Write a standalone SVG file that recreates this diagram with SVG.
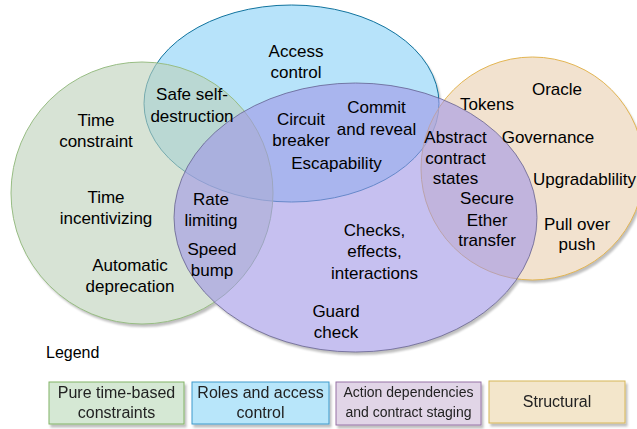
<svg xmlns="http://www.w3.org/2000/svg" width="637" height="429" viewBox="0 0 637 429">
<style>
text{font-family:"Liberation Sans",Arial,Helvetica,sans-serif;fill:#000;text-anchor:middle}
.lab{font-size:17px}
.leg{font-size:16px;fill:#222}
.leg14{font-size:14px;fill:#222}
.set{fill-opacity:0.6;stroke-width:1}
</style>
<defs>
<filter id="blur" x="-10%" y="-10%" width="120%" height="120%"><feGaussianBlur stdDeviation="1.2"/></filter>
<filter id="shadow" x="-10%" y="-20%" width="125%" height="150%"><feDropShadow dx="2" dy="3" stdDeviation="1" flood-color="#000" flood-opacity="0.25"/></filter>
<mask id="outside" maskUnits="userSpaceOnUse" x="0" y="0" width="637" height="429">
<rect x="0" y="0" width="637" height="429" fill="#fff"/>
<ellipse cx="291.5" cy="103.5" rx="147.5" ry="98.5" fill="#000"/>
<circle cx="142" cy="193" r="131" fill="#000"/>
<circle cx="532.5" cy="168.5" r="111.5" fill="#000"/>
<ellipse cx="355.5" cy="217.5" rx="181.5" ry="134.5" fill="#000"/>
</mask>
</defs>
<rect width="637" height="429" fill="#fff"/>
<g id="shadows" mask="url(#outside)" fill="#000" opacity="0.25" filter="url(#blur)">
<ellipse cx="293.5" cy="106.5" rx="147.5" ry="98.5"/>
<circle cx="144" cy="196" r="131"/>
<circle cx="534.5" cy="171.5" r="111.5"/>
<ellipse cx="357.5" cy="220.5" rx="181.5" ry="134.5"/>
</g>
<g id="roles-access-control">
<ellipse class="set" cx="291.5" cy="103.5" rx="147.5" ry="98.5" fill="#87d0f7" stroke="#10739e"/>
</g>
<g id="time-based-constraints">
<circle class="set" cx="142" cy="193" r="131" fill="#bcd0b9" stroke="#98bd84"/>
</g>
<g id="structural">
<circle class="set" cx="532.5" cy="168.5" r="111.5" fill="#e9cfaf" stroke="#e3b552"/>
</g>
<g id="action-dependencies">
<ellipse class="set" cx="355.5" cy="217.5" rx="181.5" ry="134.5" fill="#a096e6" stroke="#5d5a8a" stroke-opacity="0.75"/>
</g>
<g id="labels" class="lab">
<text class="lab" x="296" y="57">Access</text>
<text class="lab" x="296" y="78">control</text>
<text class="lab" x="192" y="100">Safe self-</text>
<text class="lab" x="192" y="122">destruction</text>
<text class="lab" x="96" y="126">Time</text>
<text class="lab" x="96" y="147">constraint</text>
<text class="lab" x="106" y="203">Time</text>
<text class="lab" x="106" y="224">incentivizing</text>
<text class="lab" x="130" y="271">Automatic</text>
<text class="lab" x="130" y="292">deprecation</text>
<text class="lab" x="211" y="205">Rate</text>
<text class="lab" x="211" y="226">limiting</text>
<text class="lab" x="212" y="255">Speed</text>
<text class="lab" x="212" y="276">bump</text>
<text class="lab" x="301" y="125">Circuit</text>
<text class="lab" x="301" y="146">breaker</text>
<text class="lab" x="336.5" y="169">Escapability</text>
<text class="lab" x="376.5" y="113">Commit</text>
<text class="lab" x="376.5" y="135">and reveal</text>
<text class="lab" x="487" y="110">Tokens</text>
<text class="lab" x="557" y="95">Oracle</text>
<text class="lab" x="455.5" y="143">Abstract</text>
<text class="lab" x="455.5" y="164">contract</text>
<text class="lab" x="455.5" y="184">states</text>
<text class="lab" x="548" y="143">Governance</text>
<text class="lab" x="584.5" y="185">Upgradablility</text>
<text class="lab" x="487" y="204">Secure</text>
<text class="lab" x="487" y="226">Ether</text>
<text class="lab" x="487" y="246">transfer</text>
<text class="lab" x="577" y="230">Pull over</text>
<text class="lab" x="577" y="250">push</text>
<text class="lab" x="374.5" y="236">Checks,</text>
<text class="lab" x="374.5" y="257">effects,</text>
<text class="lab" x="374.5" y="279">interactions</text>
<text class="lab" x="336" y="317">Guard</text>
<text class="lab" x="336" y="338">check</text>
</g>
<g id="legend">
<text x="46" y="358" style="font-size:16px;text-anchor:start">Legend</text>
<g id="legend-time" filter="url(#shadow)">
<rect x="49" y="382" width="135" height="42" fill="#d5e8d4" stroke="#82b366"/>
<text class="leg" x="116.5" y="398">Pure time-based</text>
<text class="leg" x="116.5" y="418">constraints</text>
</g>
<g id="legend-roles" filter="url(#shadow)">
<rect x="192" y="382" width="137" height="42" fill="#b8e6fa" stroke="#3d9acb"/>
<text class="leg" x="260.5" y="398">Roles and access</text>
<text class="leg" x="260.5" y="418">control</text>
</g>
<g id="legend-action" filter="url(#shadow)">
<rect x="336" y="382" width="145" height="43" fill="#e1d5e7" stroke="#9673a6"/>
<text class="leg14" x="408.5" y="397">Action dependencies</text>
<text class="leg14" x="408.5" y="417">and contract staging</text>
</g>
<g id="legend-structural" filter="url(#shadow)">
<rect x="489" y="381" width="136" height="42" fill="#f3e6cb" stroke="#d6b656"/>
<text class="leg" x="557" y="407">Structural</text>
</g>
</g>
</svg>
